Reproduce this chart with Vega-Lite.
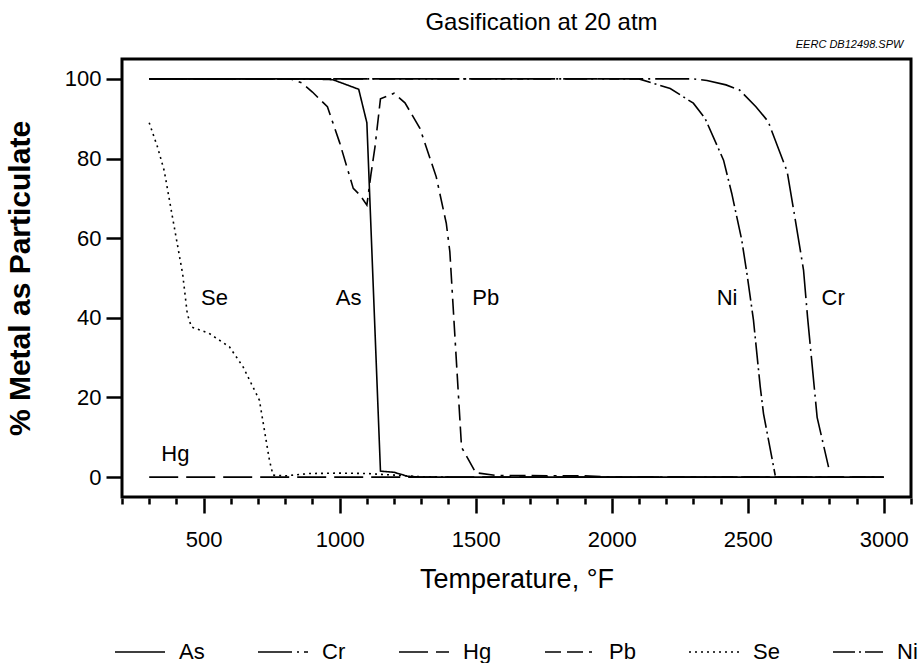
{
  "$schema": "https://vega.github.io/schema/vega-lite/v6.json",
  "width": 789,
  "height": 438,
  "autosize": "none",
  "padding": {"left": 122, "top": 59, "right": 8, "bottom": 166},
  "background": "white",
  "config": {
    "view": {"stroke": "black", "strokeWidth": 3},
    "font": "Liberation Sans",
    "text": {"font": "Liberation Sans", "color": "black"}
  },
  "title": {"text": "Gasification at 20 atm", "fontSize": 24, "fontWeight": "normal", "offset": 4, "dx": 25, "color": "black", "font": "Liberation Sans"},
  "datasets": {
    "series": [
      {"element": "As", "T": 300, "pct": 100}, {"element": "As", "T": 900, "pct": 100}, {"element": "As", "T": 975, "pct": 99.8}, {"element": "As", "T": 1015, "pct": 98.8}, {"element": "As", "T": 1070, "pct": 97.4}, {"element": "As", "T": 1100, "pct": 89}, {"element": "As", "T": 1150, "pct": 1.5}, {"element": "As", "T": 1200, "pct": 1.2}, {"element": "As", "T": 1250, "pct": 0.2}, {"element": "As", "T": 1300, "pct": 0}, {"element": "As", "T": 3000, "pct": 0},
      {"element": "Cr", "T": 300, "pct": 100}, {"element": "Cr", "T": 2300, "pct": 100}, {"element": "Cr", "T": 2350, "pct": 99.6}, {"element": "Cr", "T": 2420, "pct": 98.5}, {"element": "Cr", "T": 2470, "pct": 97.2}, {"element": "Cr", "T": 2530, "pct": 93}, {"element": "Cr", "T": 2575, "pct": 89.3}, {"element": "Cr", "T": 2645, "pct": 76.7}, {"element": "Cr", "T": 2675, "pct": 64.5}, {"element": "Cr", "T": 2705, "pct": 52}, {"element": "Cr", "T": 2720, "pct": 40}, {"element": "Cr", "T": 2755, "pct": 15}, {"element": "Cr", "T": 2797, "pct": 2.5},
      {"element": "Hg", "T": 300, "pct": 0}, {"element": "Hg", "T": 3000, "pct": 0},
      {"element": "Pb", "T": 300, "pct": 100}, {"element": "Pb", "T": 820, "pct": 100}, {"element": "Pb", "T": 860, "pct": 99}, {"element": "Pb", "T": 900, "pct": 96.7}, {"element": "Pb", "T": 925, "pct": 95}, {"element": "Pb", "T": 955, "pct": 93}, {"element": "Pb", "T": 1000, "pct": 84}, {"element": "Pb", "T": 1050, "pct": 72.5}, {"element": "Pb", "T": 1075, "pct": 70.8}, {"element": "Pb", "T": 1100, "pct": 68.3}, {"element": "Pb", "T": 1115, "pct": 76}, {"element": "Pb", "T": 1130, "pct": 83}, {"element": "Pb", "T": 1150, "pct": 95}, {"element": "Pb", "T": 1200, "pct": 96.4}, {"element": "Pb", "T": 1240, "pct": 94}, {"element": "Pb", "T": 1295, "pct": 87.6}, {"element": "Pb", "T": 1355, "pct": 75.4}, {"element": "Pb", "T": 1392, "pct": 63.7}, {"element": "Pb", "T": 1405, "pct": 56.6}, {"element": "Pb", "T": 1448, "pct": 7.5}, {"element": "Pb", "T": 1500, "pct": 1.1}, {"element": "Pb", "T": 1575, "pct": 0.4}, {"element": "Pb", "T": 1900, "pct": 0.3}, {"element": "Pb", "T": 2000, "pct": 0}, {"element": "Pb", "T": 3000, "pct": 0},
      {"element": "Se", "T": 300, "pct": 89}, {"element": "Se", "T": 330, "pct": 83}, {"element": "Se", "T": 355, "pct": 77}, {"element": "Se", "T": 385, "pct": 65.5}, {"element": "Se", "T": 423, "pct": 51}, {"element": "Se", "T": 440, "pct": 41}, {"element": "Se", "T": 455, "pct": 37.7}, {"element": "Se", "T": 520, "pct": 36.1}, {"element": "Se", "T": 595, "pct": 32.7}, {"element": "Se", "T": 645, "pct": 27.7}, {"element": "Se", "T": 693, "pct": 21}, {"element": "Se", "T": 705, "pct": 19.3}, {"element": "Se", "T": 742, "pct": 4.2}, {"element": "Se", "T": 755, "pct": 0.5}, {"element": "Se", "T": 800, "pct": 0.3}, {"element": "Se", "T": 890, "pct": 0.9}, {"element": "Se", "T": 1000, "pct": 1.0}, {"element": "Se", "T": 1100, "pct": 0.9}, {"element": "Se", "T": 1200, "pct": 0.5}, {"element": "Se", "T": 1300, "pct": 0.1}, {"element": "Se", "T": 1400, "pct": 0},
      {"element": "Ni", "T": 300, "pct": 100}, {"element": "Ni", "T": 2100, "pct": 100}, {"element": "Ni", "T": 2215, "pct": 97.6}, {"element": "Ni", "T": 2300, "pct": 93.9}, {"element": "Ni", "T": 2343, "pct": 90.1}, {"element": "Ni", "T": 2411, "pct": 79.6}, {"element": "Ni", "T": 2441, "pct": 71.3}, {"element": "Ni", "T": 2478, "pct": 59.5}, {"element": "Ni", "T": 2497, "pct": 51.1}, {"element": "Ni", "T": 2521, "pct": 39.4}, {"element": "Ni", "T": 2546, "pct": 22.6}, {"element": "Ni", "T": 2558, "pct": 15.9}, {"element": "Ni", "T": 2601, "pct": 0.4}
    ],
    "labels": [
      {"label": "Se", "T": 540, "pct": 44.9},
      {"label": "As", "T": 1033, "pct": 44.9},
      {"label": "Pb", "T": 1537, "pct": 44.9},
      {"label": "Ni", "T": 2424, "pct": 44.9},
      {"label": "Cr", "T": 2814, "pct": 44.9},
      {"label": "Hg", "T": 396, "pct": 5.7}
    ],
    "note": [
      {"label": "EERC DB12498.SPW", "T": 3072, "pct": 108.5}
    ]
  },
  "resolve": {"axis": {"x": "independent"}},
  "layer": [
    {
      "data": {"name": "series"},
      "mark": {"type": "line", "strokeWidth": 1.6, "color": "black"},
      "encoding": {
        "x": {
          "field": "T", "type": "quantitative",
          "scale": {"domain": [200, 3100], "nice": false, "zero": false},
          "axis": {
            "orient": "bottom",
            "values": [500, 1000, 1500, 2000, 2500, 3000],
            "format": "d",
            "domain": false, "grid": false,
            "tickColor": "black", "tickWidth": 2.5, "tickSize": 15,
            "offset": 1,
            "labelFontSize": 22, "labelPadding": 16, "labelColor": "black", "labelFlush": false,
            "title": "Temperature, °F", "titleFontSize": 27, "titleFontWeight": "normal", "titlePadding": 16, "titleColor": "black"
          }
        },
        "y": {
          "field": "pct", "type": "quantitative",
          "scale": {"domain": [-5, 105], "nice": false},
          "axis": {
            "values": [0, 20, 40, 60, 80, 100],
            "domain": false, "grid": false,
            "tickColor": "black", "tickWidth": 2.5, "tickSize": 16,
            "labelFontSize": 22, "labelPadding": 5, "labelColor": "black",
            "title": "% Metal as Particulate", "titleFontSize": 30, "titleFontWeight": "bold", "titlePadding": 29, "titleColor": "black"
          }
        },
        "strokeDash": {
          "field": "element", "type": "nominal",
          "scale": {
            "domain": ["As", "Cr", "Hg", "Pb", "Se", "Ni"],
            "range": [[1, 0], [34, 5, 2, 5], [29, 8], [16, 6, 16, 6, 3, 6], [2, 4], [22, 4, 2, 4]]
          },
          "legend": {
            "orient": "none", "legendX": -8, "legendY": 567,
            "direction": "horizontal", "columns": 6, "title": null,
            "symbolType": "stroke", "symbolSize": 2500, "symbolStrokeWidth": 1.6, "symbolStrokeColor": "black",
            "labelFontSize": 22, "labelOffset": 13, "columnPadding": 49, "labelColor": "black"
          }
        }
      }
    },
    {
      "data": {"name": "labels"},
      "mark": {"type": "text", "fontSize": 22, "align": "center", "baseline": "middle", "color": "black"},
      "encoding": {
        "x": {
          "field": "T", "type": "quantitative",
          "axis": {
            "orient": "bottom",
            "values": [200, 300, 400, 600, 700, 800, 900, 1100, 1200, 1300, 1400, 1600, 1700, 1800, 1900, 2100, 2200, 2300, 2400, 2600, 2700, 2800, 2900, 3100],
            "labels": false, "domain": false, "grid": false, "title": null,
            "tickColor": "black", "tickWidth": 2.5, "tickSize": 6, "offset": 1
          }
        },
        "y": {"field": "pct", "type": "quantitative"},
        "text": {"field": "label"}
      }
    },
    {
      "data": {"name": "note"},
      "mark": {"type": "text", "fontSize": 11, "fontStyle": "italic", "align": "right", "baseline": "middle", "color": "black"},
      "encoding": {
        "x": {"field": "T", "type": "quantitative", "axis": null},
        "y": {"field": "pct", "type": "quantitative"},
        "text": {"field": "label"}
      }
    }
  ]
}
